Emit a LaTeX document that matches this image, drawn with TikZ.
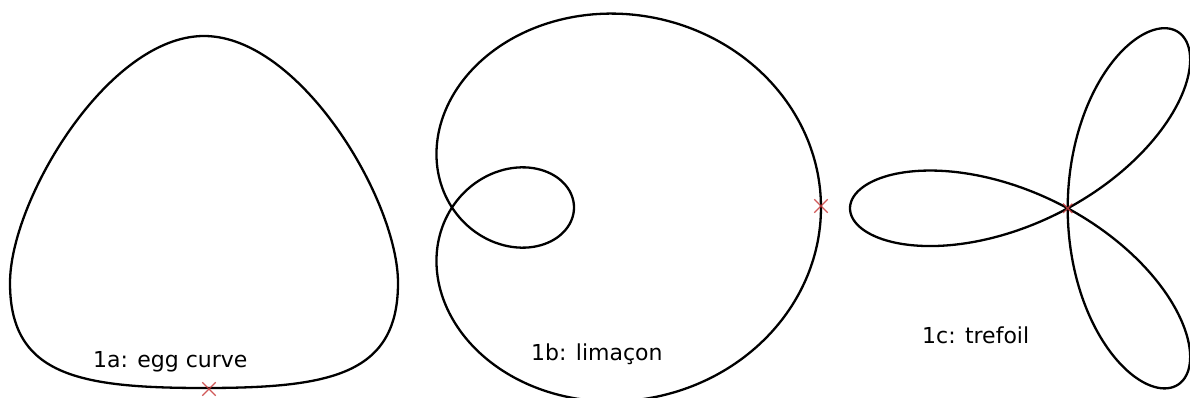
\documentclass[tikz,border=0pt]{standalone}
\usepackage{fontspec}
\setmainfont{DejaVu Sans}
\usetikzlibrary{shapes.misc}
\definecolor{markred}{RGB}{200,60,60}
\tikzset{
  curve/.style={draw=black, line width=2.3pt, line join=round},
  mark x/.style={cross out, draw=markred, line width=1.3pt, minimum size=12pt, inner sep=0pt, opacity=0.85},
  caption/.style={anchor=base west, inner sep=0pt, font=\fontsize{22}{26}\selectfont}
}
\begin{document}
\begin{tikzpicture}[x=1pt, y=-1pt]
\useasboundingbox (0,0) rectangle (1190,398);
% 1a egg curve
\draw[curve] (204,388) .. controls (330,388) and (398,375) .. (398,283)
  .. controls (398,200) and (300,36) .. (204,36)
  .. controls (108,36) and (10,200) .. (10,283)
  .. controls (10,375) and (78,388) .. cycle;
\node[mark x] (xa) at (209,389) {};
\node[caption] (la) at (93,367) {1a: egg curve};
% 1b limacon
\draw[curve] plot[domain=0:360, samples=241, smooth]
  ({452 + (123.5+245.5*cos(\x))*cos(\x)}, {207.5 + 0.895*(123.5+245.5*cos(\x))*sin(\x)});
\node[mark x] (xb) at (821,206) {};
\node[caption] (lb) at (531,360) {1b: limaçon};
% 1c trefoil
\draw[curve] plot[domain=0:180, samples=361, smooth]
  ({1067.7 - 217.7*cos(3*\x)*cos(\x)}, {208.3 - 0.94*217.7*cos(3*\x)*sin(\x)});
\node[mark x, minimum size=8pt] (xc) at (1067.7,208.3) {};
\node[caption] (lc) at (922,343) {1c: trefoil};
\end{tikzpicture}
\end{document}
